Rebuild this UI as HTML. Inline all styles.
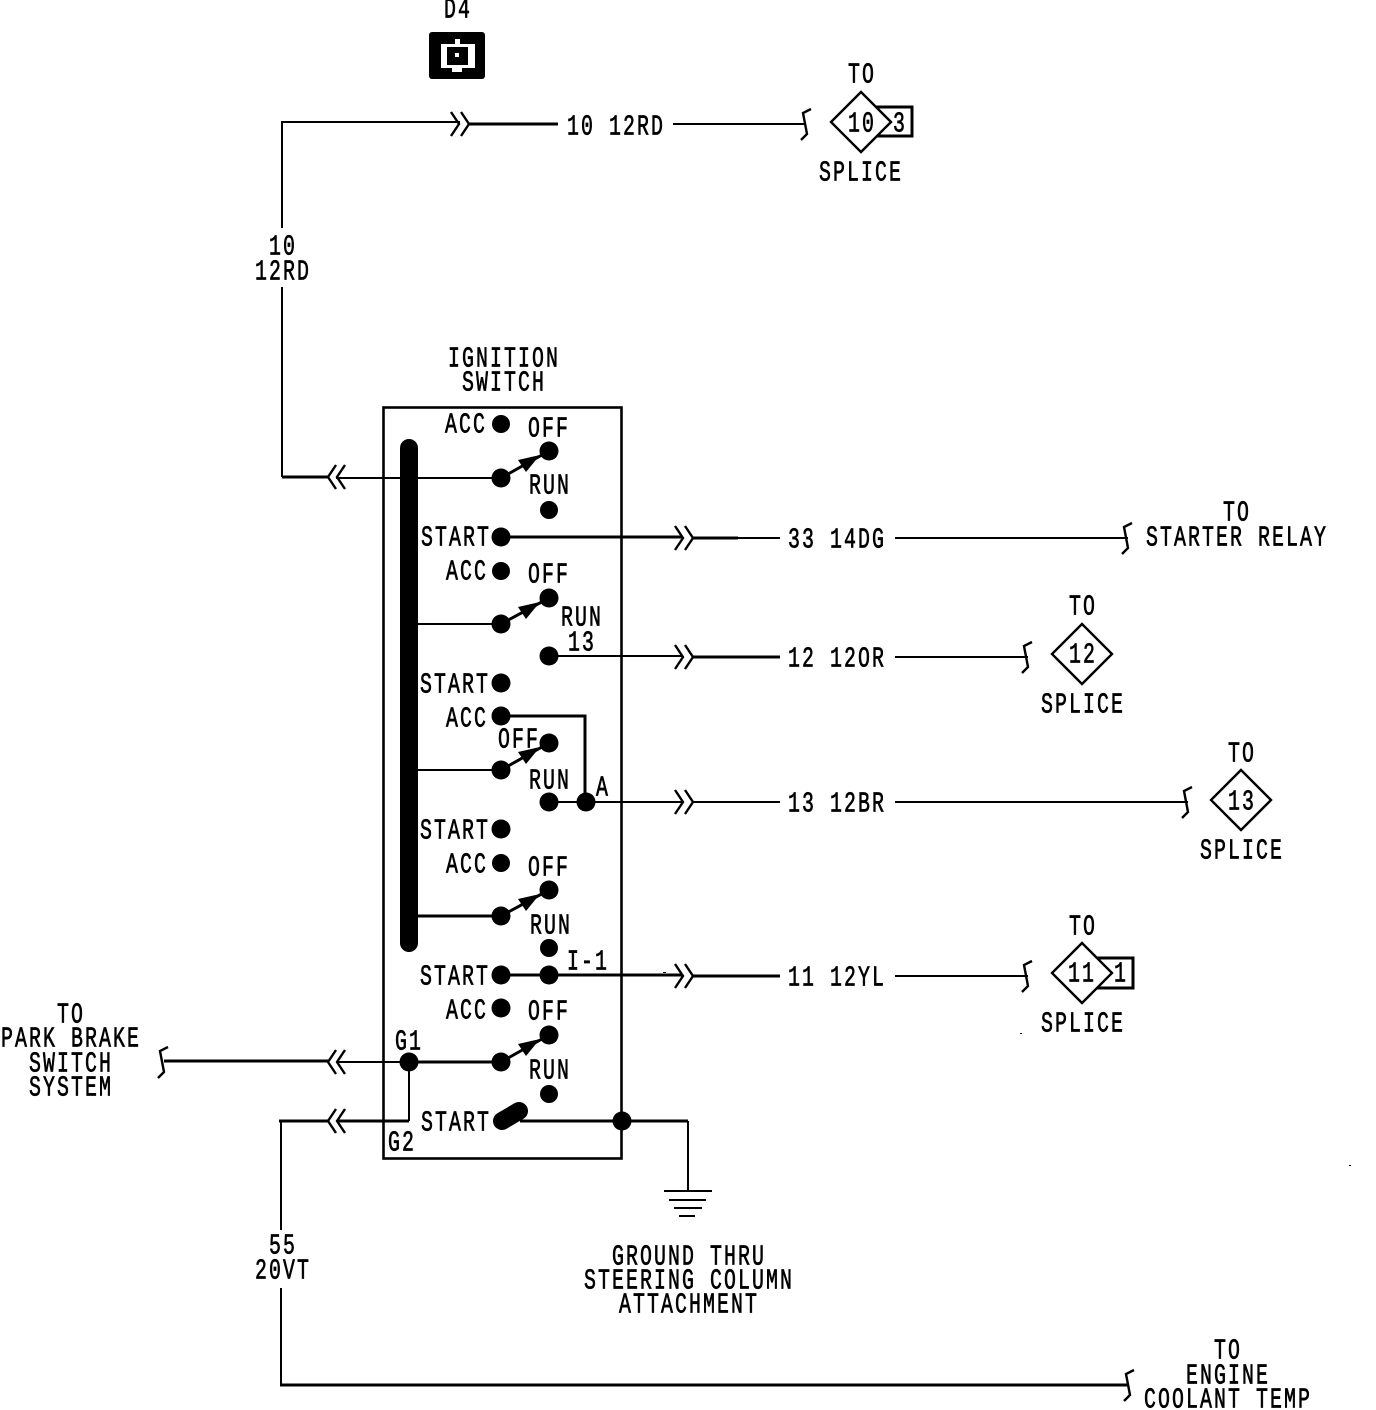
<!DOCTYPE html>
<html><head><meta charset="utf-8"><style>
html,body{margin:0;padding:0;background:#fff;width:1376px;height:1410px;overflow:hidden}
svg{display:block}
text{font-family:"Liberation Mono",monospace;font-size:28.5px;letter-spacing:3px;text-anchor:middle;fill:#000;stroke:#000;stroke-width:.7}
.w{fill:none;stroke:#000;stroke-width:2;stroke-linejoin:miter}
.h{fill:none;stroke:#000;stroke-width:3}
.c{fill:none;stroke:#000;stroke-width:2.4}
.a{fill:none;stroke:#000;stroke-width:3}
</style></head><body>
<svg width="1376" height="1410" viewBox="0 0 1376 1410" xmlns="http://www.w3.org/2000/svg">
<defs>
<g id="r"><path class="c" d="M-9 -12L-1 0L-9 12M1 -12L9 0L1 12"/></g>
<g id="l"><path class="c" d="M8 -12L0 0L8 12M17 -12L9 0L17 12"/></g>
<path id="s" class="c" d="M7 -15L-1 -11L3 10L-3 16"/>
</defs>

<!-- D4 icon -->
<rect x="429" y="32" width="56" height="47" rx="3" fill="#000"/>
<path fill="#fff" d="M441 44H455V39H460V44H475V68H462V72H452V68H441Z"/>
<rect x="447" y="47" width="21" height="18" fill="#000"/>
<rect x="455" y="53" width="4" height="4" fill="#fff"/>

<!-- Box -->
<rect x="383.5" y="407.5" width="238" height="751" fill="none" stroke="#000" stroke-width="2.6"/>
<rect x="400" y="439" width="18" height="513" rx="9" fill="#000"/>

<!-- Wires -->
<path class="w" d="M282 228V122H460"/>
<path class="h" d="M469 124H558"/>
<path class="w" d="M673 124H804"/>
<use href="#r" x="460" y="124"/>
<use href="#s" x="804" y="124"/>
<path class="w" d="M282 287V477"/>
<path class="h" d="M282 477H328"/>
<use href="#l" x="328" y="477"/>
<path class="w" d="M336 478H501"/>

<path class="h" d="M501 537H682"/>
<path class="h" d="M692 538H738"/>
<path class="w" d="M738 538H780"/>
<path class="w" d="M895 538H1128"/>
<use href="#r" x="684" y="538"/>
<use href="#s" x="1125" y="538"/>

<path class="w" d="M418 624H501"/>
<path class="w" d="M549 656H682"/>
<path class="h" d="M692 657H780"/>
<path class="w" d="M895 657H1028"/>
<use href="#r" x="684" y="657"/>
<use href="#s" x="1025" y="657"/>

<path class="h" d="M501 716H585V802"/>
<path class="w" d="M418 770H501"/>
<path class="w" d="M549 802H682"/>
<path class="w" d="M692 802H780"/>
<path class="w" d="M895 802H1188"/>
<use href="#r" x="684" y="802"/>
<use href="#s" x="1185" y="802"/>

<path class="h" d="M418 916H501"/>
<path class="h" d="M501 975H682"/>
<path class="h" d="M692 976H780"/>
<path class="w" d="M895 976H1028"/>
<use href="#r" x="684" y="976"/>
<use href="#s" x="1025" y="976"/>

<path class="h" d="M409 1062H501"/>
<path class="w" d="M337 1062H409"/>
<use href="#l" x="328" y="1062"/>
<path class="h" d="M328 1061H164"/>
<use href="#s" x="161" y="1062"/>

<path class="w" d="M409 1062V1121"/>
<path class="h" d="M337 1121H409"/>
<use href="#l" x="328" y="1121"/>
<path class="h" d="M328 1121H279"/>
<path class="w" d="M281 1121V1230"/>
<path class="w" d="M281 1288V1385"/>
<path class="h" d="M280 1385H1128"/>
<use href="#s" x="1127" y="1385"/>

<path class="h" d="M520 1121H688"/>
<path class="w" d="M688 1121V1191"/>
<path class="w" d="M664 1191H712"/>
<path class="w" d="M669 1200H706"/>
<path class="w" d="M674 1208H702"/>
<path class="w" d="M679 1216H695"/>

<!-- Switch arms -->
<g fill="#000">
<path class="a" d="M501 478L549 451"/><path d="M540 455L518 460L526 472Z"/>
<path class="a" d="M501 624L549 598"/><path d="M540 602L518 607L526 619Z"/>
<path class="a" d="M501 770L549 743"/><path d="M540 747L518 752L526 764Z"/>
<path class="a" d="M501 916L549 890"/><path d="M540 894L518 899L526 911Z"/>
<path class="a" d="M501 1062L549 1035"/><path d="M540 1039L518 1044L526 1056Z"/>
</g>
<path d="M502 1121L519 1111" stroke="#000" stroke-width="18" stroke-linecap="round"/>

<!-- Dots -->
<g fill="#000">
<circle cx="501" cy="424" r="9"/><circle cx="549" cy="451" r="9.5"/><circle cx="501" cy="478" r="9.5"/><circle cx="549" cy="510" r="9"/><circle cx="501" cy="537" r="9.5"/>
<circle cx="501" cy="571" r="9"/><circle cx="549" cy="598" r="9.5"/><circle cx="501" cy="624" r="9.5"/><circle cx="549" cy="656" r="9.5"/><circle cx="501" cy="683" r="9.5"/>
<circle cx="501" cy="716" r="9.5"/><circle cx="549" cy="743" r="9.5"/><circle cx="501" cy="770" r="9.5"/><circle cx="549" cy="802" r="9.5"/><circle cx="586" cy="802" r="9.5"/><circle cx="501" cy="829" r="9.5"/>
<circle cx="501" cy="863" r="9"/><circle cx="549" cy="890" r="9.5"/><circle cx="501" cy="916" r="9.5"/><circle cx="549" cy="948" r="9"/><circle cx="501" cy="975" r="9.5"/><circle cx="549" cy="975" r="9.5"/>
<circle cx="501" cy="1008" r="9.5"/><circle cx="549" cy="1035" r="9.5"/><circle cx="501" cy="1062" r="9.5"/><circle cx="409" cy="1062" r="9.5"/><circle cx="549" cy="1094" r="9"/><circle cx="622" cy="1121" r="9.5"/>
<rect x="1020" y="1033" width="2" height="1"/><rect x="1349" y="1165" width="2" height="1"/><rect x="663" y="972" width="3" height="1"/>
</g>

<!-- Splices -->
<path class="h" d="M875 107H912V136H875"/>
<path d="M861 92L891 122L861 152L831 122Z" fill="#fff" stroke="#000" stroke-width="2.4"/>
<path d="M1082 624L1112 654L1082 684L1052 654Z" fill="#fff" stroke="#000" stroke-width="2.4"/>
<path d="M1241 770L1271 800L1241 830L1211 800Z" fill="#fff" stroke="#000" stroke-width="2.4"/>
<path class="h" d="M1096 958H1133V988H1096"/>
<path d="M1082 943L1112 973L1082 1003L1052 973Z" fill="#fff" stroke="#000" stroke-width="2.4"/>

<!-- Labels -->
<g transform="translate(1,0.5)">
<text x="457" y="17" textLength="28" lengthAdjust="spacingAndGlyphs">D4</text>
<text x="861" y="82" textLength="28" lengthAdjust="spacingAndGlyphs">TO</text>
<text x="861" y="131" textLength="28" lengthAdjust="spacingAndGlyphs">10</text>
<text x="899" y="131" textLength="14" lengthAdjust="spacingAndGlyphs">3</text>
<text x="860" y="180" textLength="84" lengthAdjust="spacingAndGlyphs">SPLICE</text>
<text x="615" y="134" textLength="98" lengthAdjust="spacingAndGlyphs">10 12RD</text>
<text x="282" y="254" textLength="28" lengthAdjust="spacingAndGlyphs">10</text>
<text x="282" y="279" textLength="56" lengthAdjust="spacingAndGlyphs">12RD</text>
<text x="503" y="366" textLength="112" lengthAdjust="spacingAndGlyphs">IGNITION</text>
<text x="503" y="390" textLength="84" lengthAdjust="spacingAndGlyphs">SWITCH</text>

<text x="465" y="432" textLength="42" lengthAdjust="spacingAndGlyphs">ACC</text>
<text x="548" y="436" textLength="42" lengthAdjust="spacingAndGlyphs">OFF</text>
<text x="549" y="493" textLength="42" lengthAdjust="spacingAndGlyphs">RUN</text>
<text x="455" y="545" textLength="70" lengthAdjust="spacingAndGlyphs">START</text>
<text x="466" y="579" textLength="42" lengthAdjust="spacingAndGlyphs">ACC</text>
<text x="548" y="582" textLength="42" lengthAdjust="spacingAndGlyphs">OFF</text>
<text x="581" y="625" textLength="42" lengthAdjust="spacingAndGlyphs">RUN</text>
<text x="581" y="650" textLength="28" lengthAdjust="spacingAndGlyphs">13</text>
<text x="454" y="692" textLength="70" lengthAdjust="spacingAndGlyphs">START</text>
<text x="466" y="726" textLength="42" lengthAdjust="spacingAndGlyphs">ACC</text>
<text x="518" y="747" textLength="42" lengthAdjust="spacingAndGlyphs">OFF</text>
<text x="549" y="788" textLength="42" lengthAdjust="spacingAndGlyphs">RUN</text>
<text x="602" y="795" textLength="14" lengthAdjust="spacingAndGlyphs">A</text>
<text x="454" y="838" textLength="70" lengthAdjust="spacingAndGlyphs">START</text>
<text x="466" y="872" textLength="42" lengthAdjust="spacingAndGlyphs">ACC</text>
<text x="548" y="875" textLength="42" lengthAdjust="spacingAndGlyphs">OFF</text>
<text x="550" y="933" textLength="42" lengthAdjust="spacingAndGlyphs">RUN</text>
<text x="454" y="984" textLength="70" lengthAdjust="spacingAndGlyphs">START</text>
<text x="587" y="969" textLength="42" lengthAdjust="spacingAndGlyphs">I-1</text>
<text x="466" y="1018" textLength="42" lengthAdjust="spacingAndGlyphs">ACC</text>
<text x="548" y="1019" textLength="42" lengthAdjust="spacingAndGlyphs">OFF</text>
<text x="408" y="1049" textLength="28" lengthAdjust="spacingAndGlyphs">G1</text>
<text x="549" y="1078" textLength="42" lengthAdjust="spacingAndGlyphs">RUN</text>
<text x="455" y="1130" textLength="70" lengthAdjust="spacingAndGlyphs">START</text>
<text x="401" y="1150" textLength="28" lengthAdjust="spacingAndGlyphs">G2</text>

<text x="836" y="547" textLength="98" lengthAdjust="spacingAndGlyphs">33 14DG</text>
<text x="1236" y="520" textLength="28" lengthAdjust="spacingAndGlyphs">TO</text>
<text x="1236" y="545" textLength="182" lengthAdjust="spacingAndGlyphs">STARTER RELAY</text>
<text x="836" y="666" textLength="98" lengthAdjust="spacingAndGlyphs">12 12OR</text>
<text x="1082" y="614" textLength="28" lengthAdjust="spacingAndGlyphs">TO</text>
<text x="1082" y="662" textLength="28" lengthAdjust="spacingAndGlyphs">12</text>
<text x="1082" y="712" textLength="84" lengthAdjust="spacingAndGlyphs">SPLICE</text>
<text x="836" y="811" textLength="98" lengthAdjust="spacingAndGlyphs">13 12BR</text>
<text x="1241" y="761" textLength="28" lengthAdjust="spacingAndGlyphs">TO</text>
<text x="1241" y="809" textLength="28" lengthAdjust="spacingAndGlyphs">13</text>
<text x="1241" y="858" textLength="84" lengthAdjust="spacingAndGlyphs">SPLICE</text>
<text x="836" y="985" textLength="98" lengthAdjust="spacingAndGlyphs">11 12YL</text>
<text x="1082" y="934" textLength="28" lengthAdjust="spacingAndGlyphs">TO</text>
<text x="1081" y="981" textLength="28" lengthAdjust="spacingAndGlyphs">11</text>
<text x="1120" y="981" textLength="14" lengthAdjust="spacingAndGlyphs">1</text>
<text x="1082" y="1031" textLength="84" lengthAdjust="spacingAndGlyphs">SPLICE</text>

<text x="70" y="1022" textLength="28" lengthAdjust="spacingAndGlyphs">TO</text>
<text x="70" y="1046" textLength="140" lengthAdjust="spacingAndGlyphs">PARK BRAKE</text>
<text x="70" y="1071" textLength="84" lengthAdjust="spacingAndGlyphs">SWITCH</text>
<text x="70" y="1095" textLength="84" lengthAdjust="spacingAndGlyphs">SYSTEM</text>
<text x="282" y="1253" textLength="28" lengthAdjust="spacingAndGlyphs">55</text>
<text x="282" y="1278" textLength="56" lengthAdjust="spacingAndGlyphs">20VT</text>
<text x="688" y="1264" textLength="154" lengthAdjust="spacingAndGlyphs">GROUND THRU</text>
<text x="688" y="1288" textLength="210" lengthAdjust="spacingAndGlyphs">STEERING COLUMN</text>
<text x="688" y="1312" textLength="140" lengthAdjust="spacingAndGlyphs">ATTACHMENT</text>
<text x="1227" y="1358" textLength="28" lengthAdjust="spacingAndGlyphs">TO</text>
<text x="1227" y="1383" textLength="84" lengthAdjust="spacingAndGlyphs">ENGINE</text>
<text x="1227" y="1407" textLength="168" lengthAdjust="spacingAndGlyphs">COOLANT TEMP</text>
</g>
</svg>
</body></html>
